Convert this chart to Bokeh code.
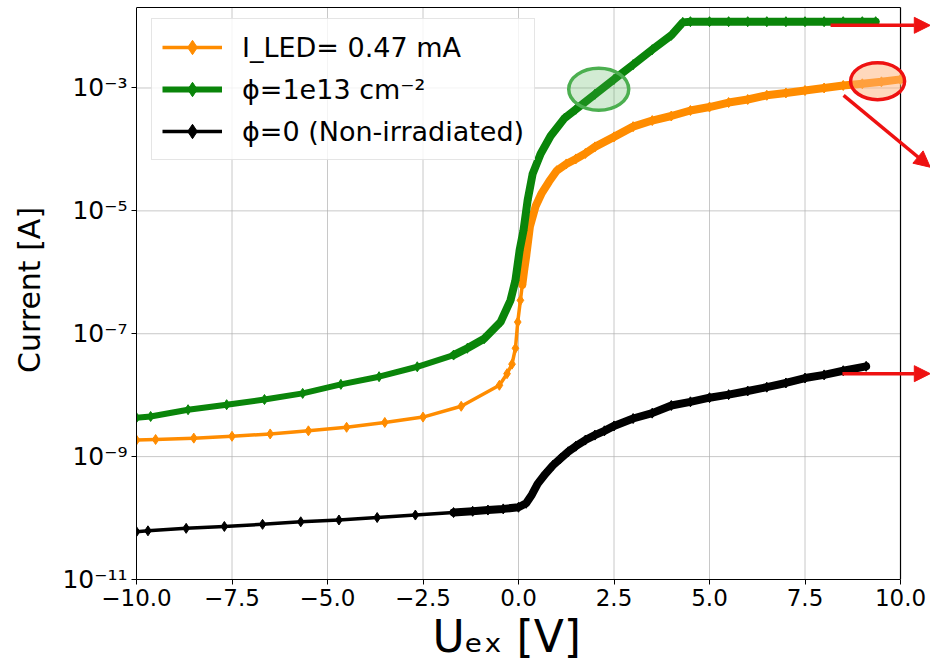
from bokeh.plotting import figure
from bokeh.models import (FixedTicker, CustomJSTickFormatter, Legend, LegendItem,
                          Title, Arrow, NormalHead, Range1d)
from bokeh.embed import file_html
from bokeh.resources import INLINE

# ---------------- data ----------------
v_led = [-10.0, -9.5, -8.5, -7.5, -6.5, -5.5, -4.5, -3.5, -2.5, -1.5, -0.5, -0.3, -0.17,
         -0.08, -0.02, 0.05, 0.1, 0.15, 0.2, 0.3, 0.45, 0.6, 0.8, 1.0, 1.25, 1.5, 1.75,
         2.0, 2.5, 3.0, 3.5, 4.0, 4.5, 5.0, 5.5, 6.0, 6.5, 7.0, 7.5, 8.0, 8.5, 9.0, 9.5, 10.0]
i_led = [1.86e-9, 1.9e-9, 2.0e-9, 2.14e-9, 2.34e-9, 2.63e-9, 3.0e-9, 3.6e-9, 4.4e-9,
         6.6e-9, 1.45e-8, 2.24e-8, 3.2e-8, 5.8e-8, 1.55e-7, 3.5e-7, 6.3e-7, 1.1e-6, 1.8e-6,
         5.6e-6, 1.2e-5, 1.9e-5, 3.0e-5, 4.5e-5, 5.8e-5, 7.0e-5, 8.6e-5, 1.1e-4, 1.6e-4,
         2.35e-4, 2.95e-4, 3.5e-4, 4.3e-4, 4.9e-4, 5.8e-4, 6.5e-4, 7.6e-4, 8.3e-4, 9.1e-4,
         1.0e-3, 1.1e-3, 1.17e-3, 1.26e-3, 1.38e-3]

v_irr = [-10.0, -9.63, -8.65, -7.64, -6.65, -5.65, -4.65, -3.65, -2.65, -1.7, -1.34, -0.9,
         -0.47, -0.21, -0.08, 0.03, 0.13, 0.24, 0.37, 0.58, 0.84, 1.2, 1.5, 2.0, 2.5, 3.0,
         3.5, 4.0, 4.3, 4.5, 5.0, 5.5, 6.0, 6.5, 7.0, 7.5, 8.0, 8.5, 9.0, 9.35]
i_irr = [4.3e-9, 4.5e-9, 5.8e-9, 7.0e-9, 8.5e-9, 1.07e-8, 1.5e-8, 2.0e-8, 2.9e-8, 4.5e-8,
         5.8e-8, 8.3e-8, 1.55e-7, 3.5e-7, 7.4e-7, 2.3e-6, 4.8e-6, 1.5e-5, 4.0e-5, 8.5e-5,
         1.65e-4, 3.2e-4, 4.5e-4, 7.9e-4, 1.38e-3, 2.4e-3, 4.2e-3, 7.2e-3, 1.17e-2, 1.2e-2,
         1.2e-2, 1.2e-2, 1.2e-2, 1.2e-2, 1.2e-2, 1.2e-2, 1.2e-2, 1.2e-2, 1.2e-2, 1.2e-2]

v_non = [-10.0, -9.7, -8.7, -7.7, -6.7, -5.7, -4.7, -3.7, -2.7, -1.7, -1.2, -0.8, -0.4, 0.0,
         0.2, 0.35, 0.5, 0.7, 0.9, 1.1, 1.3, 1.5, 1.75, 2.0, 2.25, 2.5, 3.0, 3.5, 4.0, 4.5,
         5.0, 5.5, 6.0, 6.5, 7.0, 7.5, 8.0, 8.5, 9.1]
i_non = [6.0e-11, 6.2e-11, 6.8e-11, 7.3e-11, 7.9e-11, 8.7e-11, 9.3e-11, 1.02e-10, 1.12e-10,
         1.23e-10, 1.29e-10, 1.35e-10, 1.41e-10, 1.50e-10, 1.74e-10, 2.4e-10, 3.6e-10,
         5.2e-10, 7.2e-10, 9.3e-10, 1.2e-9, 1.48e-9, 1.86e-9, 2.24e-9, 2.63e-9, 3.16e-9,
         4.17e-9, 5.1e-9, 6.8e-9, 7.8e-9, 9.1e-9, 1.02e-8, 1.17e-8, 1.35e-8, 1.58e-8, 1.9e-8,
         2.14e-8, 2.5e-8, 2.95e-8]

series_labels = ["I_LED= 0.47 mA", "\u03d5=1e13 cm\u207b\u00b2", "\u03d5=0 (Non-irradiated)"]
x_label = "U\u2091\u2093 [V]"
y_label = "Current [A]"
x_ticks = [-10.0, -7.5, -5.0, -2.5, 0.0, 2.5, 5.0, 7.5, 10.0]
y_ticks = [1e-11, 1e-9, 1e-7, 1e-5, 1e-3]
x_lim = (-10.0, 10.0)
y_lim = (1e-11, 10 ** -1.69)

# annotation anchors (data units)
ellipse_green_xy = (2.10, 10 ** -3.02)
ellipse_red_xy = (9.40, 10 ** -2.89)
arrow_starts = [(8.17, 10 ** -1.98), (8.51, 10 ** -3.12), (8.48, 10 ** -7.65)]
arrow_ends = [(10.78, 10 ** -1.98), (10.78, 10 ** -4.29), (10.78, 10 ** -7.65)]

FONT = "DejaVu Sans"
C_ORANGE = "#ff8c00"
C_GREEN = "#0a850a"
C_BLACK = "#000000"
C_RED = "#ee1111"

# frame extends to the right edge so the arrows can reach it; the visible
# axes box is drawn by hand at x = -10..10
p = figure(width=930, height=670, x_range=Range1d(-10, 10.785),
           y_range=Range1d(1e-11, 10 ** -1.576), y_axis_type="log",
           output_backend="svg", toolbar_location=None,
           min_border_left=136, min_border_right=0, min_border_top=0,
           min_border_bottom=91)
p.title.visible = False
p.background_fill_color = "white"
p.border_fill_color = "white"
p.outline_line_color = None
p.grid.visible = False

# axes
p.xaxis.ticker = FixedTicker(ticks=x_ticks)
p.yaxis.ticker = FixedTicker(ticks=y_ticks)
p.xaxis.bounds = x_lim
p.yaxis.bounds = y_lim
p.xaxis.formatter = CustomJSTickFormatter(code="return tick.toFixed(1).replace('-', '\\u2212');")
p.yaxis.formatter = CustomJSTickFormatter(code="""
const sup = {'-':'\\u207b','0':'\\u2070','1':'\\u00b9','2':'\\u00b2','3':'\\u00b3','4':'\\u2074',
             '5':'\\u2075','6':'\\u2076','7':'\\u2077','8':'\\u2078','9':'\\u2079'};
const e = Math.round(Math.log10(tick));
return '10' + String(e).split('').map(c => sup[c]).join('');
""")
for ax in (p.xaxis[0], p.yaxis[0]):
    ax.major_label_text_font = FONT
    ax.major_label_text_font_size = "23px"
    ax.major_label_text_color = "black"
    ax.major_tick_out = 5
    ax.major_tick_in = 0
    ax.major_tick_line_color = "black"
    ax.minor_tick_line_color = None
    ax.axis_line_color = "black"
    ax.major_label_standoff = 4
p.yaxis.major_label_text_font_size = "25px"
p.yaxis.axis_label = y_label
p.yaxis.axis_label_text_font = FONT
p.yaxis.axis_label_text_font_size = "30px"
p.yaxis.axis_label_text_font_style = "normal"
p.yaxis.axis_label_text_color = "black"
p.yaxis.axis_label_standoff = 12

p.add_layout(Title(text=x_label, align="left", offset=296, text_font=FONT,
                   text_font_size="44px", text_font_style="normal", text_color="black",
                   standoff=0), "below")

# grid and box (drawn from the tick arrays)
GRID = dict(line_color="#b0b0b0", line_alpha=0.7, line_width=1)
p.segment(x0=x_ticks, y0=[y_lim[0]] * len(x_ticks), x1=x_ticks, y1=[y_lim[1]] * len(x_ticks), **GRID)
p.segment(x0=[x_lim[0]] * len(y_ticks), y0=y_ticks, x1=[x_lim[1]] * len(y_ticks), y1=y_ticks, **GRID)
p.segment(x0=[x_lim[0], x_lim[1]], y0=[y_lim[1], y_lim[0]], x1=[x_lim[1], x_lim[1]],
          y1=[y_lim[1], y_lim[1]], line_color="black", line_width=1.2)

# curves
def draw(v, i, color, width, band_from):
    ln = p.line(v, i, line_color=color, line_width=width, line_join="round")
    vb = [a for a in v if a >= band_from]
    ib = [b for a, b in zip(v, i) if a >= band_from]
    p.line(vb, ib, line_color=color, line_width=8, line_join="round", line_cap="round")
    sc = p.scatter(v, i, marker="diamond", size=10, fill_color=color, line_color=color)
    return ln, sc

r_led = draw(v_led, i_led, C_ORANGE, 3.5, 0.1)
r_irr = draw(v_irr, i_irr, C_GREEN, 6, -1.7)
r_non = draw(v_non, i_non, C_BLACK, 3.5, -1.7)

# highlight ellipses
p.ellipse(x=[ellipse_green_xy[0]], y=[ellipse_green_xy[1]], width=60, height=42,
          width_units="screen", height_units="screen",
          fill_color="#4caf50", fill_alpha=0.25, line_color="#4caf50", line_width=3.5)
p.ellipse(x=[ellipse_red_xy[0]], y=[ellipse_red_xy[1]], width=54, height=37,
          width_units="screen", height_units="screen",
          fill_color="#ffb27a", fill_alpha=0.5, line_color=C_RED, line_width=3.5)

for (xs, ys), (xe, ye) in zip(arrow_starts, arrow_ends):
    p.add_layout(Arrow(end=NormalHead(size=16, fill_color=C_RED, line_color=C_RED),
                       x_start=xs, y_start=ys, x_end=xe, y_end=ye,
                       line_color=C_RED, line_width=3.5))

# legend
legend = Legend(items=[LegendItem(label=series_labels[0], renderers=list(r_led)),
                       LegendItem(label=series_labels[1], renderers=list(r_irr)),
                       LegendItem(label=series_labels[2], renderers=list(r_non))],
                location="top_left", margin=0, padding=10, spacing=6,
                label_height=36, glyph_height=36, glyph_width=60, label_standoff=20,
                label_text_font=FONT, label_text_font_size="27px",
                label_text_color="black",
                border_line_color="#cccccc", border_line_width=1,
                background_fill_color="white", background_fill_alpha=0.8)
legend.location = (15, 670 - 91 - 20 - 140)
p.add_layout(legend)

open("out.html", "w").write(file_html(p, INLINE))
